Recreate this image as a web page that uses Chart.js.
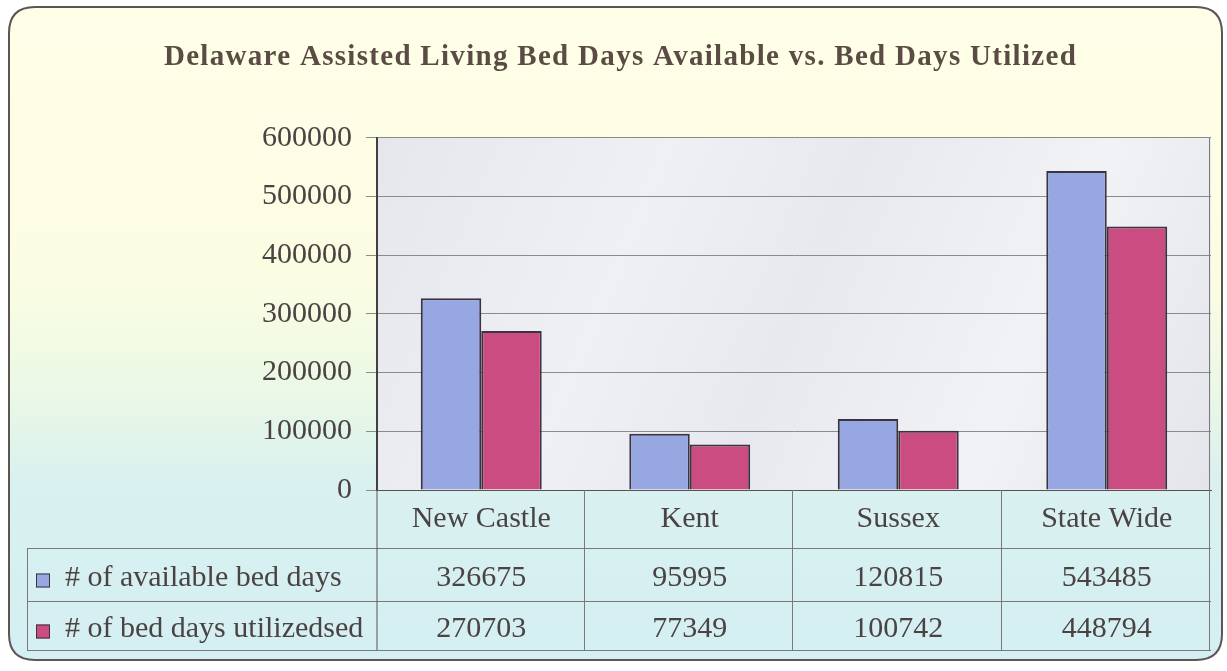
<!DOCTYPE html>
<html><head><meta charset="utf-8">
<script src="https://cdn.jsdelivr.net/npm/chart.js@4.4.1/dist/chart.umd.min.js"></script>
<style>html,body{margin:0;padding:0;background:#fff;}#wrap{width:1227px;height:671px;}</style>
</head><body><div id="wrap"><canvas id="c" width="1227" height="671"></canvas></div>
<script>
const categories = ['New Castle', 'Kent', 'Sussex', 'State Wide'];
const availableBedDays = [326675, 95995, 120815, 543485];
const utilizedBedDays = [270703, 77349, 100742, 448794];
const seriesLabels = ['# of available bed days', '# of bed days utilizedsed'];
const seriesColors = ['#97a7e2', '#cb4c80'];
const yTickValues = [0, 100000, 200000, 300000, 400000, 500000, 600000];
const titleText = 'Delaware Assisted Living Bed Days Available vs. Bed Days Utilized';

const SERIF = '"Liberation Serif", "Times New Roman", serif';
const TXT = '#4b4343';

function roundRect(ctx, x0, y0, x1, y1, r) {
  ctx.beginPath();
  ctx.moveTo(x0 + r, y0);
  ctx.lineTo(x1 - r, y0);
  ctx.quadraticCurveTo(x1, y0, x1, y0 + r);
  ctx.lineTo(x1, y1 - r);
  ctx.quadraticCurveTo(x1, y1, x1 - r, y1);
  ctx.lineTo(x0 + r, y1);
  ctx.quadraticCurveTo(x0, y1, x0, y1 - r);
  ctx.lineTo(x0, y0 + r);
  ctx.quadraticCurveTo(x0, y0, x0 + r, y0);
  ctx.closePath();
}

const decor = {
  id: 'decor',
  afterInit(chart) {
    const tb = chart.titleBlock;
    if (tb) {
      const orig = tb.draw.bind(tb);
      tb.draw = function () {
        const ctx = chart.ctx;
        ctx.save();
        ctx.letterSpacing = '1.3px';
        ctx.translate(15, 0);
        orig();
        ctx.restore();
      };
    }
  },
  beforeDraw(chart) {
    const ctx = chart.ctx, a = chart.chartArea;
    ctx.save();
    ctx.fillStyle = '#ffffff';
    ctx.fillRect(0, 0, chart.width, chart.height);
    const g = ctx.createLinearGradient(0, 7, 0, 660);
    g.addColorStop(0, '#fffee8');
    g.addColorStop(0.42, '#fbfde2');
    g.addColorStop(0.6, '#e9f8e6');
    g.addColorStop(0.72, '#d9f1ef');
    g.addColorStop(1, '#d4eff3');
    roundRect(ctx, 9, 7, 1222, 660, 26);
    ctx.fillStyle = g;
    ctx.fill();
    ctx.lineWidth = 2;
    ctx.strokeStyle = '#5e5452';
    ctx.stroke();
    // marble-like plot area
    const m = ctx.createLinearGradient(a.left, a.top, a.right, a.bottom);
    m.addColorStop(0, '#e6e7ed');
    m.addColorStop(0.3, '#eff0f4');
    m.addColorStop(0.5, '#e8e9ef');
    m.addColorStop(0.75, '#f1f2f5');
    m.addColorStop(1, '#e4e5eb');
    ctx.fillStyle = m;
    ctx.fillRect(a.left, a.top, a.right - a.left, a.bottom - a.top);
    ctx.restore();
  },
  afterDraw(chart) {
    const ctx = chart.ctx, a = chart.chartArea, xs = chart.scales.x;
    const n = categories.length;
    const colW = (a.right - a.left) / n;
    const tableLeft = 27;
    const r1 = a.bottom + 58, r2 = a.bottom + 111, r3 = a.bottom + 160;
    ctx.save();
    ctx.strokeStyle = '#7c7878';
    ctx.lineWidth = 1;
    ctx.beginPath();
    [r1, r2, r3].forEach(y => { ctx.moveTo(tableLeft, y + 0.5); ctx.lineTo(a.right, y + 0.5); });
    ctx.moveTo(tableLeft + 0.5, r1); ctx.lineTo(tableLeft + 0.5, r3);
    for (let i = 1; i <= n; i++) {
      const x = Math.round(a.left + i * colW) - 1.5;
      ctx.moveTo(x, a.bottom); ctx.lineTo(x, r3);
    }
    ctx.moveTo(Math.round(a.right) - 1.5, a.top); ctx.lineTo(Math.round(a.right) - 1.5, a.bottom);
    ctx.stroke();
    ctx.beginPath();
    ctx.strokeStyle = '#5a5252';
    ctx.moveTo(a.left, a.bottom); ctx.lineTo(a.left, r3);
    ctx.stroke();

    const rows = [[availableBedDays, r1, r2], [utilizedBedDays, r2, r3]];
    ctx.font = '30px ' + SERIF;
    ctx.fillStyle = TXT;
    ctx.textBaseline = 'middle';
    rows.forEach((row, ri) => {
      const cy = (row[1] + row[2]) / 2 + 4;
      ctx.textAlign = 'center';
      row[0].forEach((v, i) => {
        ctx.fillText(String(v), xs.getPixelForValue(i), cy);
      });
      ctx.fillStyle = seriesColors[ri];
      ctx.fillRect(36, cy - 5, 14, 14);
      ctx.strokeStyle = '#3b3340';
      ctx.lineWidth = 1;
      ctx.strokeRect(36.5, cy - 4.5, 13, 13);
      ctx.fillStyle = TXT;
      ctx.textAlign = 'left';
      ctx.fillText(seriesLabels[ri], 65, cy);
    });
    ctx.restore();
  }
};

new Chart(document.getElementById('c'), {
  type: 'bar',
  data: {
    labels: categories,
    datasets: [
      { label: seriesLabels[0], data: availableBedDays, backgroundColor: seriesColors[0], borderColor: '#3b3340', borderWidth: 2 },
      { label: seriesLabels[1], data: utilizedBedDays, backgroundColor: seriesColors[1], borderColor: '#3b3340', borderWidth: 2 }
    ]
  },
  options: {
    responsive: false,
    animation: false,
    devicePixelRatio: 1,
    layout: { padding: { left: 0, right: 16, top: 0, bottom: 0 } },
    datasets: { bar: { categoryPercentage: 0.58, barPercentage: 1.0 } },
    plugins: {
      legend: { display: false },
      tooltip: { enabled: false },
      title: {
        display: true,
        text: titleText,
        color: '#5a4c45',
        font: { family: SERIF, size: 29, weight: 'bold' },
        padding: { top: 40, bottom: 63 }
      }
    },
    scales: {
      x: {
        grid: { display: false, drawTicks: false },
        border: { display: true, color: '#5a5252', width: 1 },
        ticks: { color: TXT, font: { family: SERIF, size: 30 }, padding: 11, maxRotation: 0 },
        afterFit(s) { s.height = 181; }
      },
      y: {
        min: 0, max: 600000,
        grid: { color: '#8c8a8a', lineWidth: 1, tickLength: 11, drawTicks: true },
        border: { display: true, color: '#463e3e', width: 2 },
        ticks: { color: TXT, font: { family: SERIF, size: 30 }, padding: 14, callback: v => String(v) },
        afterBuildTicks(s) { s.ticks = yTickValues.map(v => ({ value: v })); },
        afterFit(s) { s.width = 377; }
      }
    }
  },
  plugins: [decor]
});
</script>
</body></html>
